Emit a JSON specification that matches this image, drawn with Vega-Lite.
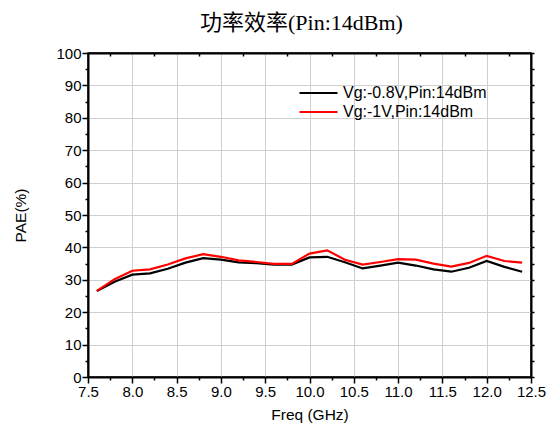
{
  "$schema": "https://vega.github.io/schema/vega-lite/v6.json",
  "autosize": {"type": "none"},
  "padding": {"left": 88, "top": 53, "right": 22, "bottom": 57},
  "width": 443,
  "height": 324,
  "background": "white",
  "title": {
    "text": "功率效率(Pin:14dBm)",
    "font": "'Liberation Serif', 'Noto Sans CJK SC'",
    "fontSize": 22,
    "fontWeight": "normal",
    "color": "black",
    "anchor": "middle",
    "dx": -8,
    "offset": 11
  },
  "config": {
    "view": {"stroke": "black", "strokeWidth": 1.5},
    "axis": {
      "labelFont": "Liberation Sans",
      "titleFont": "Liberation Sans",
      "labelFontSize": 15,
      "titleFontSize": 15.5,
      "titleFontWeight": "normal",
      "labelColor": "black",
      "titleColor": "black",
      "domainColor": "black",
      "domainWidth": 2,
      "tickColor": "black",
      "tickWidth": 1.5,
      "gridColor": "#cfcfcf",
      "gridWidth": 1,
      "labelOverlap": false,
      "labelFlush": false
    }
  },
  "data": {
    "values": [
      {"freq": 7.6, "pae": 26.5, "series": "Vg:-0.8V,Pin:14dBm"},
      {"freq": 7.8, "pae": 29.4, "series": "Vg:-0.8V,Pin:14dBm"},
      {"freq": 8.0, "pae": 31.6, "series": "Vg:-0.8V,Pin:14dBm"},
      {"freq": 8.2, "pae": 32.0, "series": "Vg:-0.8V,Pin:14dBm"},
      {"freq": 8.4, "pae": 33.4, "series": "Vg:-0.8V,Pin:14dBm"},
      {"freq": 8.6, "pae": 35.3, "series": "Vg:-0.8V,Pin:14dBm"},
      {"freq": 8.8, "pae": 36.7, "series": "Vg:-0.8V,Pin:14dBm"},
      {"freq": 9.0, "pae": 36.2, "series": "Vg:-0.8V,Pin:14dBm"},
      {"freq": 9.2, "pae": 35.4, "series": "Vg:-0.8V,Pin:14dBm"},
      {"freq": 9.4, "pae": 35.1, "series": "Vg:-0.8V,Pin:14dBm"},
      {"freq": 9.6, "pae": 34.7, "series": "Vg:-0.8V,Pin:14dBm"},
      {"freq": 9.8, "pae": 34.7, "series": "Vg:-0.8V,Pin:14dBm"},
      {"freq": 10.0, "pae": 36.9, "series": "Vg:-0.8V,Pin:14dBm"},
      {"freq": 10.2, "pae": 37.1, "series": "Vg:-0.8V,Pin:14dBm"},
      {"freq": 10.4, "pae": 35.4, "series": "Vg:-0.8V,Pin:14dBm"},
      {"freq": 10.6, "pae": 33.5, "series": "Vg:-0.8V,Pin:14dBm"},
      {"freq": 10.8, "pae": 34.4, "series": "Vg:-0.8V,Pin:14dBm"},
      {"freq": 11.0, "pae": 35.3, "series": "Vg:-0.8V,Pin:14dBm"},
      {"freq": 11.2, "pae": 34.4, "series": "Vg:-0.8V,Pin:14dBm"},
      {"freq": 11.4, "pae": 33.2, "series": "Vg:-0.8V,Pin:14dBm"},
      {"freq": 11.6, "pae": 32.5, "series": "Vg:-0.8V,Pin:14dBm"},
      {"freq": 11.8, "pae": 33.7, "series": "Vg:-0.8V,Pin:14dBm"},
      {"freq": 12.0, "pae": 35.8, "series": "Vg:-0.8V,Pin:14dBm"},
      {"freq": 12.2, "pae": 34.0, "series": "Vg:-0.8V,Pin:14dBm"},
      {"freq": 12.4, "pae": 32.5, "series": "Vg:-0.8V,Pin:14dBm"},
      {"freq": 7.6, "pae": 26.6, "series": "Vg:-1V,Pin:14dBm"},
      {"freq": 7.8, "pae": 30.2, "series": "Vg:-1V,Pin:14dBm"},
      {"freq": 8.0, "pae": 32.8, "series": "Vg:-1V,Pin:14dBm"},
      {"freq": 8.2, "pae": 33.2, "series": "Vg:-1V,Pin:14dBm"},
      {"freq": 8.4, "pae": 34.7, "series": "Vg:-1V,Pin:14dBm"},
      {"freq": 8.6, "pae": 36.6, "series": "Vg:-1V,Pin:14dBm"},
      {"freq": 8.8, "pae": 37.9, "series": "Vg:-1V,Pin:14dBm"},
      {"freq": 9.0, "pae": 37.1, "series": "Vg:-1V,Pin:14dBm"},
      {"freq": 9.2, "pae": 36.0, "series": "Vg:-1V,Pin:14dBm"},
      {"freq": 9.4, "pae": 35.5, "series": "Vg:-1V,Pin:14dBm"},
      {"freq": 9.6, "pae": 34.9, "series": "Vg:-1V,Pin:14dBm"},
      {"freq": 9.8, "pae": 34.9, "series": "Vg:-1V,Pin:14dBm"},
      {"freq": 10.0, "pae": 38.1, "series": "Vg:-1V,Pin:14dBm"},
      {"freq": 10.2, "pae": 39.1, "series": "Vg:-1V,Pin:14dBm"},
      {"freq": 10.4, "pae": 36.2, "series": "Vg:-1V,Pin:14dBm"},
      {"freq": 10.6, "pae": 34.7, "series": "Vg:-1V,Pin:14dBm"},
      {"freq": 10.8, "pae": 35.5, "series": "Vg:-1V,Pin:14dBm"},
      {"freq": 11.0, "pae": 36.4, "series": "Vg:-1V,Pin:14dBm"},
      {"freq": 11.2, "pae": 36.2, "series": "Vg:-1V,Pin:14dBm"},
      {"freq": 11.4, "pae": 35.0, "series": "Vg:-1V,Pin:14dBm"},
      {"freq": 11.6, "pae": 34.1, "series": "Vg:-1V,Pin:14dBm"},
      {"freq": 11.8, "pae": 35.2, "series": "Vg:-1V,Pin:14dBm"},
      {"freq": 12.0, "pae": 37.4, "series": "Vg:-1V,Pin:14dBm"},
      {"freq": 12.2, "pae": 35.8, "series": "Vg:-1V,Pin:14dBm"},
      {"freq": 12.4, "pae": 35.3, "series": "Vg:-1V,Pin:14dBm"}
    ]
  },
  "resolve": {"axis": {"x": "independent", "y": "independent"}},
  "layer": [
    {
      "mark": {"type": "line", "strokeWidth": 2.2},
      "encoding": {
        "x": {
          "field": "freq",
          "type": "quantitative",
          "scale": {"domain": [7.5, 12.5], "nice": false, "zero": false},
          "axis": {
            "title": "Freq (GHz)",
            "titlePadding": 8,
            "values": [7.5, 7.75, 8.0, 8.25, 8.5, 8.75, 9.0, 9.25, 9.5, 9.75, 10.0, 10.25, 10.5, 10.75, 11.0, 11.25, 11.5, 11.75, 12.0, 12.25, 12.5],
            "labelExpr": "abs(datum.value*2 - round(datum.value*2)) < 0.001 ? format(datum.value, '.1f') : ''",
            "tickSize": {"condition": {"test": "abs(datum.value*2 - round(datum.value*2)) < 0.001", "value": 6}, "value": 3},
            "gridOpacity": {"condition": {"test": "abs(datum.value*2 - round(datum.value*2)) < 0.001", "value": 1}, "value": 0},
            "labelPadding": 1
          }
        },
        "y": {
          "field": "pae",
          "type": "quantitative",
          "scale": {"domain": [0, 100], "nice": false},
          "axis": {
            "title": "PAE(%)",
            "titlePadding": 27,
            "values": [0, 5, 10, 15, 20, 25, 30, 35, 40, 45, 50, 55, 60, 65, 70, 75, 80, 85, 90, 95, 100],
            "labelExpr": "datum.value % 10 === 0 ? datum.label : ''",
            "tickSize": {"condition": {"test": "datum.value % 10 === 0", "value": 6}, "value": 3},
            "gridOpacity": {"condition": {"test": "datum.value % 10 === 0", "value": 1}, "value": 0},
            "labelPadding": 1
          }
        },
        "color": {
          "field": "series",
          "type": "nominal",
          "scale": {"domain": ["Vg:-0.8V,Pin:14dBm", "Vg:-1V,Pin:14dBm"], "range": ["#000000", "#ff0000"]},
          "legend": {
            "title": null,
            "orient": "none",
            "legendX": 210,
            "legendY": 32,
            "symbolType": "stroke",
            "symbolSize": 1444,
            "symbolStrokeWidth": 2.2,
            "labelFont": "Liberation Sans",
            "labelFontSize": 16,
            "labelColor": "black",
            "labelOffset": 4,
            "clipHeight": 16,
            "rowPadding": 3
          }
        }
      }
    },
    {
      "mark": {"type": "line", "opacity": 0},
      "encoding": {
        "x": {
          "field": "freq",
          "type": "quantitative",
          "scale": {"domain": [7.5, 12.5], "nice": false, "zero": false},
          "axis": {
            "orient": "top",
            "title": null,
            "labels": false,
            "grid": false,
            "values": [7.75, 8.25, 8.75, 9.25, 9.75, 10.25, 10.75, 11.25, 11.75, 12.25],
            "tickSize": -3
          }
        },
        "y": {
          "field": "pae",
          "type": "quantitative",
          "scale": {"domain": [0, 100], "nice": false},
          "axis": {
            "orient": "right",
            "title": null,
            "labels": false,
            "grid": false,
            "values": [0, 5, 10, 15, 20, 25, 30, 35, 40, 45, 50, 55, 60, 65, 70, 75, 80, 85, 90, 95, 100],
            "tickSize": 3
          }
        },
        "detail": {"field": "series"}
      }
    }
  ]
}
